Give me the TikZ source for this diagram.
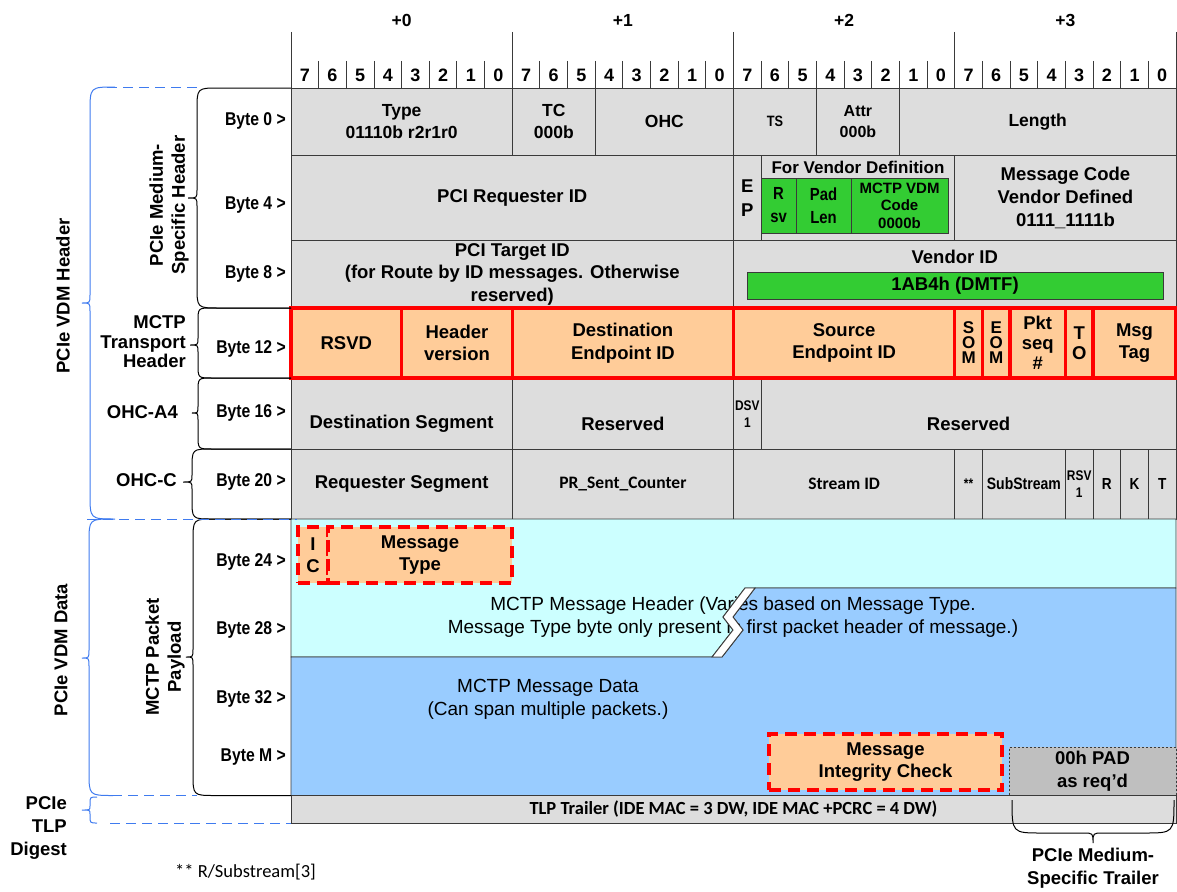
\documentclass[tikz,border=0pt]{standalone}
\usepackage{fontspec}
\setmainfont{Liberation Sans}
\newfontfamily\narrowfont[FakeStretch=0.85]{Liberation Sans}
\newfontfamily\calfont{Carlito}
\definecolor{gr}{HTML}{DDDDDD}
\definecolor{dk}{HTML}{3A3A3A}
\definecolor{cy}{HTML}{CCFFFF}
\definecolor{bl}{HTML}{99CCFF}
\definecolor{org}{HTML}{FFCC99}
\definecolor{grn}{HTML}{33CC33}
\definecolor{padc}{HTML}{BFBFBF}
\definecolor{bbl}{HTML}{3F7BEF}
\newcommand\fsz[2]{\fontsize{#1}{#2}\selectfont}
% style, xend, xbulge, xtip, ytop, ytip, ybot, r, rs
\newcommand\mybrace[9]{%
  \draw[#1] (#2,#5) -- ({#3+#8},#5) .. controls (#3,#5) .. (#3,{#5+#8})
    -- (#3,{#6-#9}) .. controls (#3,#6) .. (#4,#6) .. controls (#3,#6) .. (#3,{#6+#9})
    -- (#3,{#7-#8}) .. controls (#3,#7) .. ({#3+#8},#7) -- (#2,#7);}
\begin{document}
\begin{tikzpicture}[x=1pt,y=-1pt,
  box/.style n args={4}{at={({(#1+#3)/2},{(#2+#4)/2})}, minimum width={(#3)-(#1)}, minimum height={(#4)-(#2)}},
  gline/.style={draw=dk, line width=0.9},
  cellg/.style={draw=dk, fill=gr, line width=0.9, inner sep=0, outer sep=0},
  cello/.style={draw=red, fill=org, line width=3.3, inner sep=0, outer sep=0},
  cellgr/.style={draw=dk, fill=grn, line width=0.9, inner sep=0, outer sep=0},
  redash/.style={draw=red, fill=org, line width=3.8, dash pattern=on 12 off 7, inner sep=0, outer sep=0},
  padbox/.style={draw=dk, fill=padc, line width=0.8, dash pattern=on 2 off 2, inner sep=0, outer sep=0},
  tb/.style={font=\bfseries\fsz{18.5}{22.5}, align=center, inner sep=0},
  tb0/.style={font=\bfseries\fsz{17.5}{22}, align=center, inner sep=0},
  tn/.style={font=\narrowfont\bfseries\fsz{18.5}{22}, align=center, inner sep=0},
  tsm/.style={font=\narrowfont\bfseries\fsz{#1}{17}, align=center, inner sep=0},
  tcal/.style={font=\calfont\bfseries\fsz{17.5}{21}, align=center, inner sep=0},
  treg/.style={font=\fsz{19}{23}, align=center, inner sep=0},
  blk/.style={draw=black, line width=1},
  blu/.style={draw=bbl, line width=1},
  bdash/.style={draw=bbl, line width=1, dash pattern=on 10 off 6},
]
\useasboundingbox (0,0) rectangle (1177,891);

% ---------- header ----------
\node[tb0] (p0) at (401.6,20) {+0};
\node[tb0] (p1) at (622.9,20) {+1};
\node[tb0] (p2) at (844.1,20) {+2};
\node[tb0] (p3) at (1065.4,20) {+3};
\foreach \k in {0,8,16,24,32} \draw[gline] ({291+27.656*\k},32) -- ({291+27.656*\k},88);
\foreach \k in {1,...,31} \draw[gline] ({291+27.656*\k},61) -- ({291+27.656*\k},88);
\foreach \k in {0,...,31}{%
  \pgfmathtruncatemacro\bitv{7-mod(\k,8)}%
  \node[tb0, font=\bfseries\fsz{18}{22}] (bit\k) at ({291+27.656*(\k+0.5)},75) {\bitv};}

% ---------- row 0 ----------
\node[cellg, tb0, box={291}{88}{512.3}{155.5}] (type) {Type\\01110b r2r1r0};
\node[cellg, tb0, box={512.3}{88}{595.2}{155.5}] (tc) {TC\\000b};
\node[cellg, tb0, box={595.2}{88}{733.5}{155.5}] (ohc) {OHC};
\node[cellg, tsm=15, box={733.5}{88}{816.5}{155.5}] (ts) {TS};
\node[cellg, tb0, font=\bfseries\fsz{16}{21}, box={816.5}{88}{899.4}{155.5}] (attr) {Attr\\000b};
\node[cellg, tb0, box={899.4}{88}{1176}{155.5}] (length) {Length};

% ---------- row 4 ----------
\node[cellg, tb, box={291}{155.5}{733.5}{240}] (reqid) {PCI Requester ID};
\node[cellg, tb, font=\bfseries\fsz{18.5}{24}, box={733.5}{155.5}{761.2}{240}] (ep) {E\\P};
\node[cellg, box={761.2}{155.5}{954.8}{240}] (vdef) {};
\node[tb, font=\bfseries\fsz{17}{20}] (vdefT) at (858,167) {For Vendor Definition};
\node[cellgr, tn, font=\narrowfont\bfseries\fsz{17.5}{23}, box={761.2}{178}{796}{233}] (rsv) {R\\sv};
\node[cellgr, tn, font=\narrowfont\bfseries\fsz{17.5}{23}, box={796}{178}{851}{233}] (padlen) {Pad\\Len};
\node[cellgr, tb, font=\bfseries\fsz{15}{17.5}, box={851}{178}{948}{233}] (vdmcode) {MCTP VDM\\Code\\0000b};
\node[cellg, tb, font=\bfseries\fsz{18.5}{23}, box={954.8}{155.5}{1176}{240}] (msgcode) {Message Code\\Vendor Defined\\0111\_1111b};

% ---------- row 8 ----------
\node[cellg, tb, box={291}{240}{733.5}{308}] (tgtid) {PCI Target ID\\(for Route by ID messages. Otherwise\\reserved)};
\node[cellg, box={733.5}{240}{1176}{308}] (vendid) {};
\node[tb] (vendidT) at (954.8,257) {Vendor ID};
\node[cellgr, tb, box={747}{272}{1163}{299}] (dmtf) {1AB4h (DMTF)};

% ---------- row 16 ----------
\node[cellg, box={291}{378}{512.3}{449}] (dseg) {};
\node[tb] (dsegT) at (401.6,424) {Destination Segment};
\node[cellg, box={512.3}{378}{733.5}{449}] (res1) {};
\node[tb] (res1T) at (622.9,424) {Reserved};
\node[cellg, box={733.5}{378}{761.2}{449}] (dsv) {};
\node[tsm=14] (dsvT) at (747.3,414) {DSV\\1};
\node[cellg, box={761.2}{378}{1176}{449}] (res2) {};
\node[tb] (res2T) at (968.6,424) {Reserved};

% ---------- row 20 ----------
\node[cellg, tb, box={291}{449}{512.3}{519}] (rseg) {Requester Segment};
\node[cellg, tcal, box={512.3}{449}{733.5}{519}] (prs) {PR\_Sent\_Counter};
\node[cellg, tcal, box={733.5}{449}{954.8}{519}] (sid) {Stream ID};
\node[cellg, tsm=14, box={954.8}{449}{982.4}{519}] (ast) {**};
\node[cellg, tsm=16.5, box={982.4}{449}{1065.4}{519}] (sub) {SubStream};
\node[cellg, tsm=14, box={1065.4}{449}{1093}{519}] (rsv1) {RSV\\1};
\node[cellg, tsm=16, box={1093}{449}{1120.7}{519}] (rfld) {R};
\node[cellg, tsm=16, box={1120.7}{449}{1148.3}{519}] (kfld) {K};
\node[cellg, tsm=16, box={1148.3}{449}{1176}{519}] (tfld) {T};

% ---------- row 12 (MCTP transport header) ----------
\node[cello, tb, box={291}{308}{401.6}{378}] (rsvd) {RSVD};
\node[cello, tb, box={401.6}{308}{512.3}{378}] (hver) {Header\\version};
\node[cello, tb, box={512.3}{308}{733.5}{378}] (dstep) {Destination\\Endpoint ID};
\node[cello, tb, box={733.5}{308}{954.8}{378}] (srcep) {Source\\Endpoint ID};
\node[cello, tb, font=\bfseries\fsz{17}{15}, box={954.8}{308}{982.4}{378}] (som) {S\\O\\M};
\node[cello, tb, font=\bfseries\fsz{17}{15}, box={982.4}{308}{1010.1}{378}] (eom) {E\\O\\M};
\node[cello, tb, font=\bfseries\fsz{18.5}{20}, box={1010.1}{308}{1065.4}{378}] (pkt) {Pkt\\seq\\\#};
\node[cello, tb, font=\bfseries\fsz{18.5}{20}, box={1065.4}{308}{1093}{378}] (tofld) {T\\O};
\node[cello, tb, box={1093}{308}{1176}{378}] (tag) {Msg\\Tag};

% ---------- payload ----------
\filldraw[fill=cy, draw=dk, line width=0.9] (291,519) -- (1176,519) -- (1176,588) -- (745,588)
  -- (723,617) -- (733,630) -- (712,657) -- (291,657) -- cycle;
\filldraw[fill=bl, draw=dk, line width=0.9] (755,588) -- (1176,588) -- (1176,795.5) -- (291,795.5)
  -- (291,657) -- (722,657) -- (743,630) -- (733,617) -- cycle;
\node[treg] (hdrT) at (733,617.5) {MCTP Message Header (Varies based on Message Type.\\Message Type byte only present in first packet header of message.)};
\node[treg] (dataT) at (548,699.5) {MCTP Message Data\\(Can span multiple packets.)};
\filldraw[fill=white, draw=dk, line width=0.9] (745,588) -- (755,588) -- (733,617) -- (743,630)
  -- (722,657) -- (712,657) -- (733,630) -- (723,617) -- cycle;
\node[redash, tb, font=\bfseries\fsz{18.5}{22}, box={298}{527}{328}{583}] (ic) {I\\C};
\node[redash, tb, box={328}{527}{512}{583}] (mtype) {Message\\Type};
\node[redash, tb, box={769}{734}{1002}{790}] (mic) {Message\\Integrity Check};
\node[padbox, tb, box={1009}{747}{1176}{795.5}] (pad) {00h PAD\\as req’d};
\node[cellg, tcal, font=\calfont\bfseries\fsz{18.5}{22}, box={291}{795.5}{1176}{823}] (trailer) {TLP Trailer (IDE MAC = 3 DW, IDE MAC +PCRC = 4 DW)};

% ---------- byte labels ----------
\node[tn, anchor=east] (b0) at (286,121) {Byte 0 >};
\node[tn, anchor=east] (b4) at (286,205) {Byte 4 >};
\node[tn, anchor=east] (b8) at (286,274) {Byte 8 >};
\node[tn, anchor=east] (b12) at (286,349) {Byte 12 >};
\node[tn, anchor=east] (b16) at (286,413) {Byte 16 >};
\node[tn, anchor=east] (b20) at (286,482) {Byte 20 >};
\node[tn, anchor=east] (b24) at (286,562) {Byte 24 >};
\node[tn, anchor=east] (b28) at (286,630) {Byte 28 >};
\node[tn, anchor=east] (b32) at (286,699) {Byte 32 >};
\node[tn, anchor=east] (bM) at (286,757) {Byte M >};

% ---------- braces ----------
\mybrace{blk}{291}{197}{188}{88}{198}{308}{22}{8}
\mybrace{blk}{291}{198}{190}{308}{345}{378}{14}{7}
\mybrace{blk}{291}{198}{192}{378}{413}{449}{14}{7}
\mybrace{blk}{291}{192}{183}{449}{482}{519}{20}{7}
\mybrace{blk}{291}{193}{186}{519}{657}{795.5}{22}{8}
\mybrace{blu}{115}{90}{82}{87}{303}{519}{25}{8}
\mybrace{blu}{113}{89}{82}{519}{658}{795.5}{24}{8}
\mybrace{blu}{97}{90}{82}{797}{810}{823}{7}{4}
\draw[bdash] (107,87) -- (197,87);
\draw[bdash] (87,519) -- (297,519);
\draw[bdash] (112,795.5) -- (197,795.5);
\draw[bdash] (110,823) -- (291,823);
\draw[blk] (1012,800) .. controls (1012,833) .. (1042,833) -- (1083,833)
  .. controls (1093,833) .. (1093,843) .. controls (1093,833) .. (1103,833)
  -- (1144,833) .. controls (1174,833) .. (1174,800);

% ---------- side labels ----------
\node[tb, font=\bfseries\fsz{18.5}{22}, rotate=90] (lmsh) at (169,205) {PCIe Medium-\\Specific Header};
\node[tb, font=\bfseries\fsz{18.5}{19.5}, align=right, anchor=east] (lmtp) at (186,342) {MCTP\\Transport\\Header};
\node[tb, anchor=east] (lohca) at (178,412) {OHC-A4};
\node[tb, anchor=east] (lohcc) at (177,480) {OHC-C};
\node[tb, font=\bfseries\fsz{18.5}{22}, rotate=90] (lpay) at (165,657) {MCTP Packet\\Payload};
\node[tb, rotate=90] (lvdmh) at (63,296) {PCIe VDM Header};
\node[tb, rotate=90] (lvdmd) at (61,650) {PCIe VDM Data};
\node[tb, font=\bfseries\fsz{18.5}{23}, align=right, anchor=east] (ldig) at (67,828) {PCIe\\TLP\\Digest};
\node[tb, font=\bfseries\fsz{18.5}{23}] (ltrl) at (1093,868.5) {PCIe Medium-\\Specific Trailer};
\node[anchor=base west, inner sep=0, font=\calfont\fsz{18.5}{22}] (fn) at (175,877) {** R/Substream[3]};
\end{tikzpicture}
\end{document}
